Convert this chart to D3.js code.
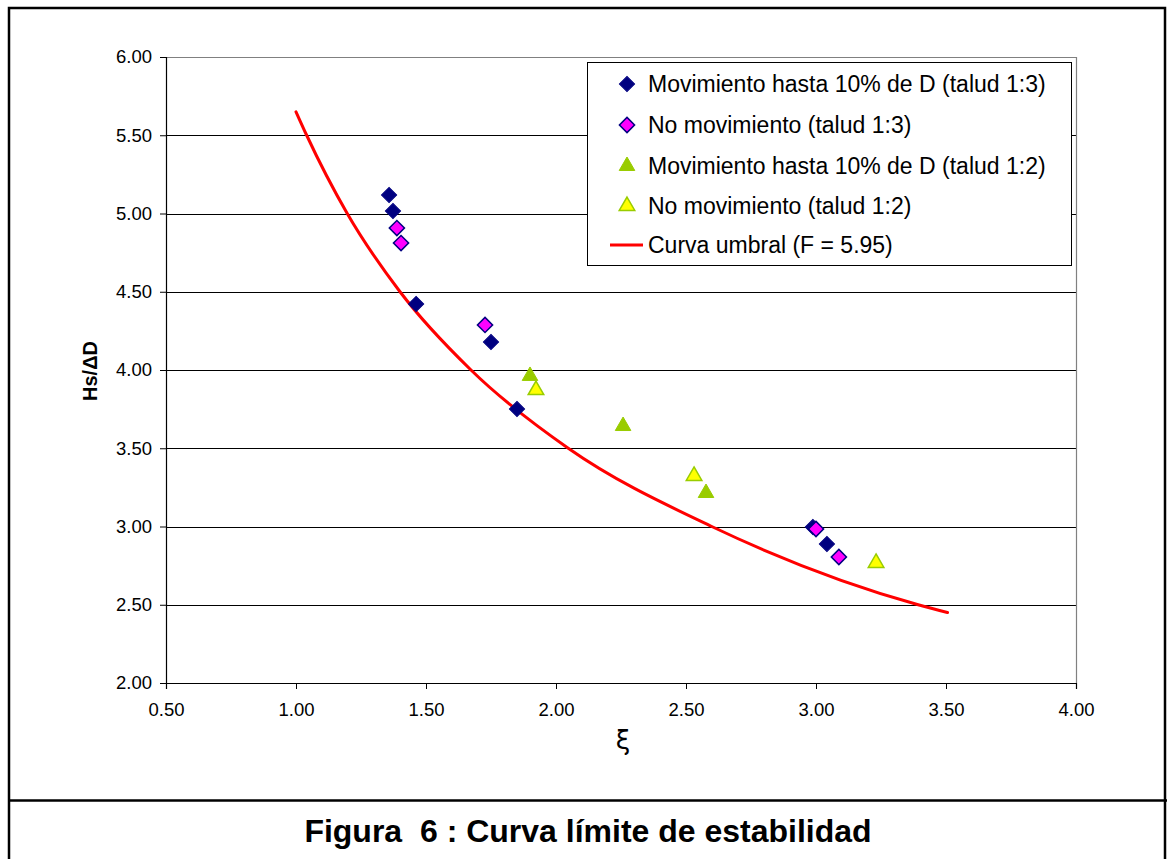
<!DOCTYPE html>
<html>
<head>
<meta charset="utf-8">
<script src="https://cdn.jsdelivr.net/npm/d3@7"></script>
<style>
  html, body { margin: 0; padding: 0; background: #fff; }
  svg { display: block; font-family: "Liberation Sans", Arial, sans-serif; }
</style>
</head>
<body>
<svg id="chart" width="1167" height="859"></svg>
<script>
// ---- Data ----
const mov13X = [1.358, 1.373, 1.462, 1.750, 1.850, 2.988, 3.042];
const mov13Y = [5.118, 5.016, 4.422, 4.179, 3.751, 2.997, 2.888];

const noMov13X = [1.388, 1.404, 1.727, 3.000, 3.088];
const noMov13Y = [4.907, 4.811, 4.288, 2.984, 2.805];

const mov12X = [1.900, 2.258, 2.577];
const mov12Y = [3.962, 3.642, 3.214];

const noMov12X = [1.923, 2.531, 3.231];
const noMov12Y = [3.872, 3.323, 2.767];

const curveXi = [1.000, 1.041, 1.197, 1.400, 1.673, 2.047, 2.599, 3.393, 3.506];
const curveH  = [5.650, 5.500, 5.000, 4.500, 4.000, 3.500, 3.000, 2.500, 2.450];

const xTicks = [0.5, 1.0, 1.5, 2.0, 2.5, 3.0, 3.5, 4.0];
const yTicks = [2.0, 2.5, 3.0, 3.5, 4.0, 4.5, 5.0, 5.5, 6.0];

const legendLabels = [
  "Movimiento hasta 10% de D (talud 1:3)",
  "No movimiento (talud 1:3)",
  "Movimiento hasta 10% de D (talud 1:2)",
  "No movimiento (talud 1:2)",
  "Curva umbral (F = 5.95)"
];
const titleText = "Figura  6 : Curva límite de estabilidad";

// ---- Drawing ----
const svg = d3.select("#chart");
const x = d3.scaleLinear().domain([0.5, 4.0]).range([166, 1076]);
const y = d3.scaleLinear().domain([2.0, 6.0]).range([683, 57]);

// outer frame
svg.append("rect").attr("x", 9).attr("y", 8).attr("width", 1156).attr("height", 860)
  .attr("fill", "#fff").attr("stroke", "#000").attr("stroke-width", 2.5);
svg.append("line").attr("x1", 9).attr("x2", 1167).attr("y1", 800.5).attr("y2", 800.5)
  .attr("stroke", "#000").attr("stroke-width", 2.5);

// gridlines
svg.append("g").selectAll("line").data(yTicks.filter(d => d > 2)).join("line")
  .attr("x1", x(0.5)).attr("x2", x(4.0))
  .attr("y1", d => Math.round(y(d)) + 0.5).attr("y2", d => Math.round(y(d)) + 0.5)
  .attr("stroke", d => d === 6 ? "#808080" : "#000").attr("stroke-width", 1);

// right border of plot area
svg.append("line").attr("x1", Math.round(x(4)) + 0.5).attr("x2", Math.round(x(4)) + 0.5)
  .attr("y1", y(6)).attr("y2", y(2)).attr("stroke", "#808080").attr("stroke-width", 1.2);

// axes
const fmt = d3.format(".2f");
const yAxis = svg.append("g").attr("transform", `translate(${x(0.5)},0)`)
  .call(d3.axisLeft(y).tickValues(yTicks).tickFormat(fmt).tickSize(6).tickPadding(8));
const xAxis = svg.append("g").attr("transform", `translate(0,${y(2)})`)
  .call(d3.axisBottom(x).tickValues(xTicks).tickFormat(fmt).tickSize(6).tickPadding(14));
[yAxis, xAxis].forEach(a => {
  a.selectAll("path").attr("stroke", "#000").attr("stroke-width", 1.2);
  a.selectAll("line").attr("stroke", "#000");
  a.selectAll("text").attr("font-size", 18.5).attr("fill", "#000")
    .attr("font-family", "'Liberation Sans', Arial, sans-serif");
});
xAxis.selectAll("text").attr("dy", "0.71em");

// axis titles
svg.append("text").attr("x", 623).attr("y", 740).attr("text-anchor", "middle")
  .attr("dominant-baseline", "central").attr("font-size", 26)
  .attr("font-family", "'DejaVu Sans', 'Liberation Sans', sans-serif").text("ξ");
svg.append("text").attr("transform", "translate(90,371) rotate(-90)")
  .attr("text-anchor", "middle").attr("dominant-baseline", "central")
  .attr("font-size", 20).attr("font-weight", "bold").text("Hs/ΔD");

// threshold curve
const line = d3.line().x(d => x(d[0])).y(d => y(d[1])).curve(d3.curveMonotoneX);
svg.append("path").datum(d3.zip(curveXi, curveH)).attr("d", line)
  .attr("fill", "none").attr("stroke", "#ff0000").attr("stroke-width", 3)
  .attr("stroke-linecap", "round");

// markers
const diamond = d3.symbol(d3.symbolSquare, 115)();
const triangle = d3.symbol(d3.symbolTriangle, 105)();
function drawSeries(xs, ys, shape, fill, stroke, sw) {
  svg.append("g").selectAll("path").data(d3.zip(xs, ys)).join("path")
    .attr("d", shape)
    .attr("transform", d => `translate(${x(d[0])},${y(d[1])})` + (shape === diamond ? " rotate(45)" : ""))
    .attr("fill", fill).attr("stroke", stroke).attr("stroke-width", sw);
}
drawSeries(mov13X, mov13Y, diamond, "#000080", "#000080", 1);
drawSeries(noMov13X, noMov13Y, diamond, "#ff00ff", "#000080", 1.5);
drawSeries(mov12X, mov12Y, triangle, "#99cc00", "#99cc00", 1);
drawSeries(noMov12X, noMov12Y, triangle, "#ffff00", "#99cc00", 1.5);

// legend
const lg = svg.append("g");
lg.append("rect").attr("x", 587.5).attr("y", 62.5).attr("width", 484).attr("height", 203)
  .attr("fill", "#fff").attr("stroke", "#000").attr("stroke-width", 1);
const rowY = [84, 125, 166, 206, 245];
const lgStyles = [
  {shape: diamond, fill: "#000080", stroke: "#000080", sw: 1},
  {shape: diamond, fill: "#ff00ff", stroke: "#000080", sw: 1.5},
  {shape: triangle, fill: "#99cc00", stroke: "#99cc00", sw: 1},
  {shape: triangle, fill: "#ffff00", stroke: "#99cc00", sw: 1.5},
  null
];
legendLabels.forEach((lab, i) => {
  const st = lgStyles[i];
  if (st) {
    lg.append("path").attr("d", st.shape)
      .attr("transform", `translate(627,${rowY[i]})` + (st.shape === diamond ? " rotate(45)" : ""))
      .attr("fill", st.fill).attr("stroke", st.stroke).attr("stroke-width", st.sw);
  } else {
    lg.append("line").attr("x1", 610).attr("x2", 643).attr("y1", rowY[i]).attr("y2", rowY[i])
      .attr("stroke", "#ff0000").attr("stroke-width", 3);
  }
  lg.append("text").attr("x", 648).attr("y", rowY[i]).attr("dominant-baseline", "central")
    .attr("font-size", 23).attr("fill", "#000").text(lab);
});

// figure title
svg.append("text").attr("x", 588).attr("y", 831).attr("text-anchor", "middle")
  .attr("dominant-baseline", "central").attr("font-size", 32).attr("font-weight", "bold")
  .attr("xml:space", "preserve").style("white-space", "pre")
  .text(titleText);
</script>
</body>
</html>
